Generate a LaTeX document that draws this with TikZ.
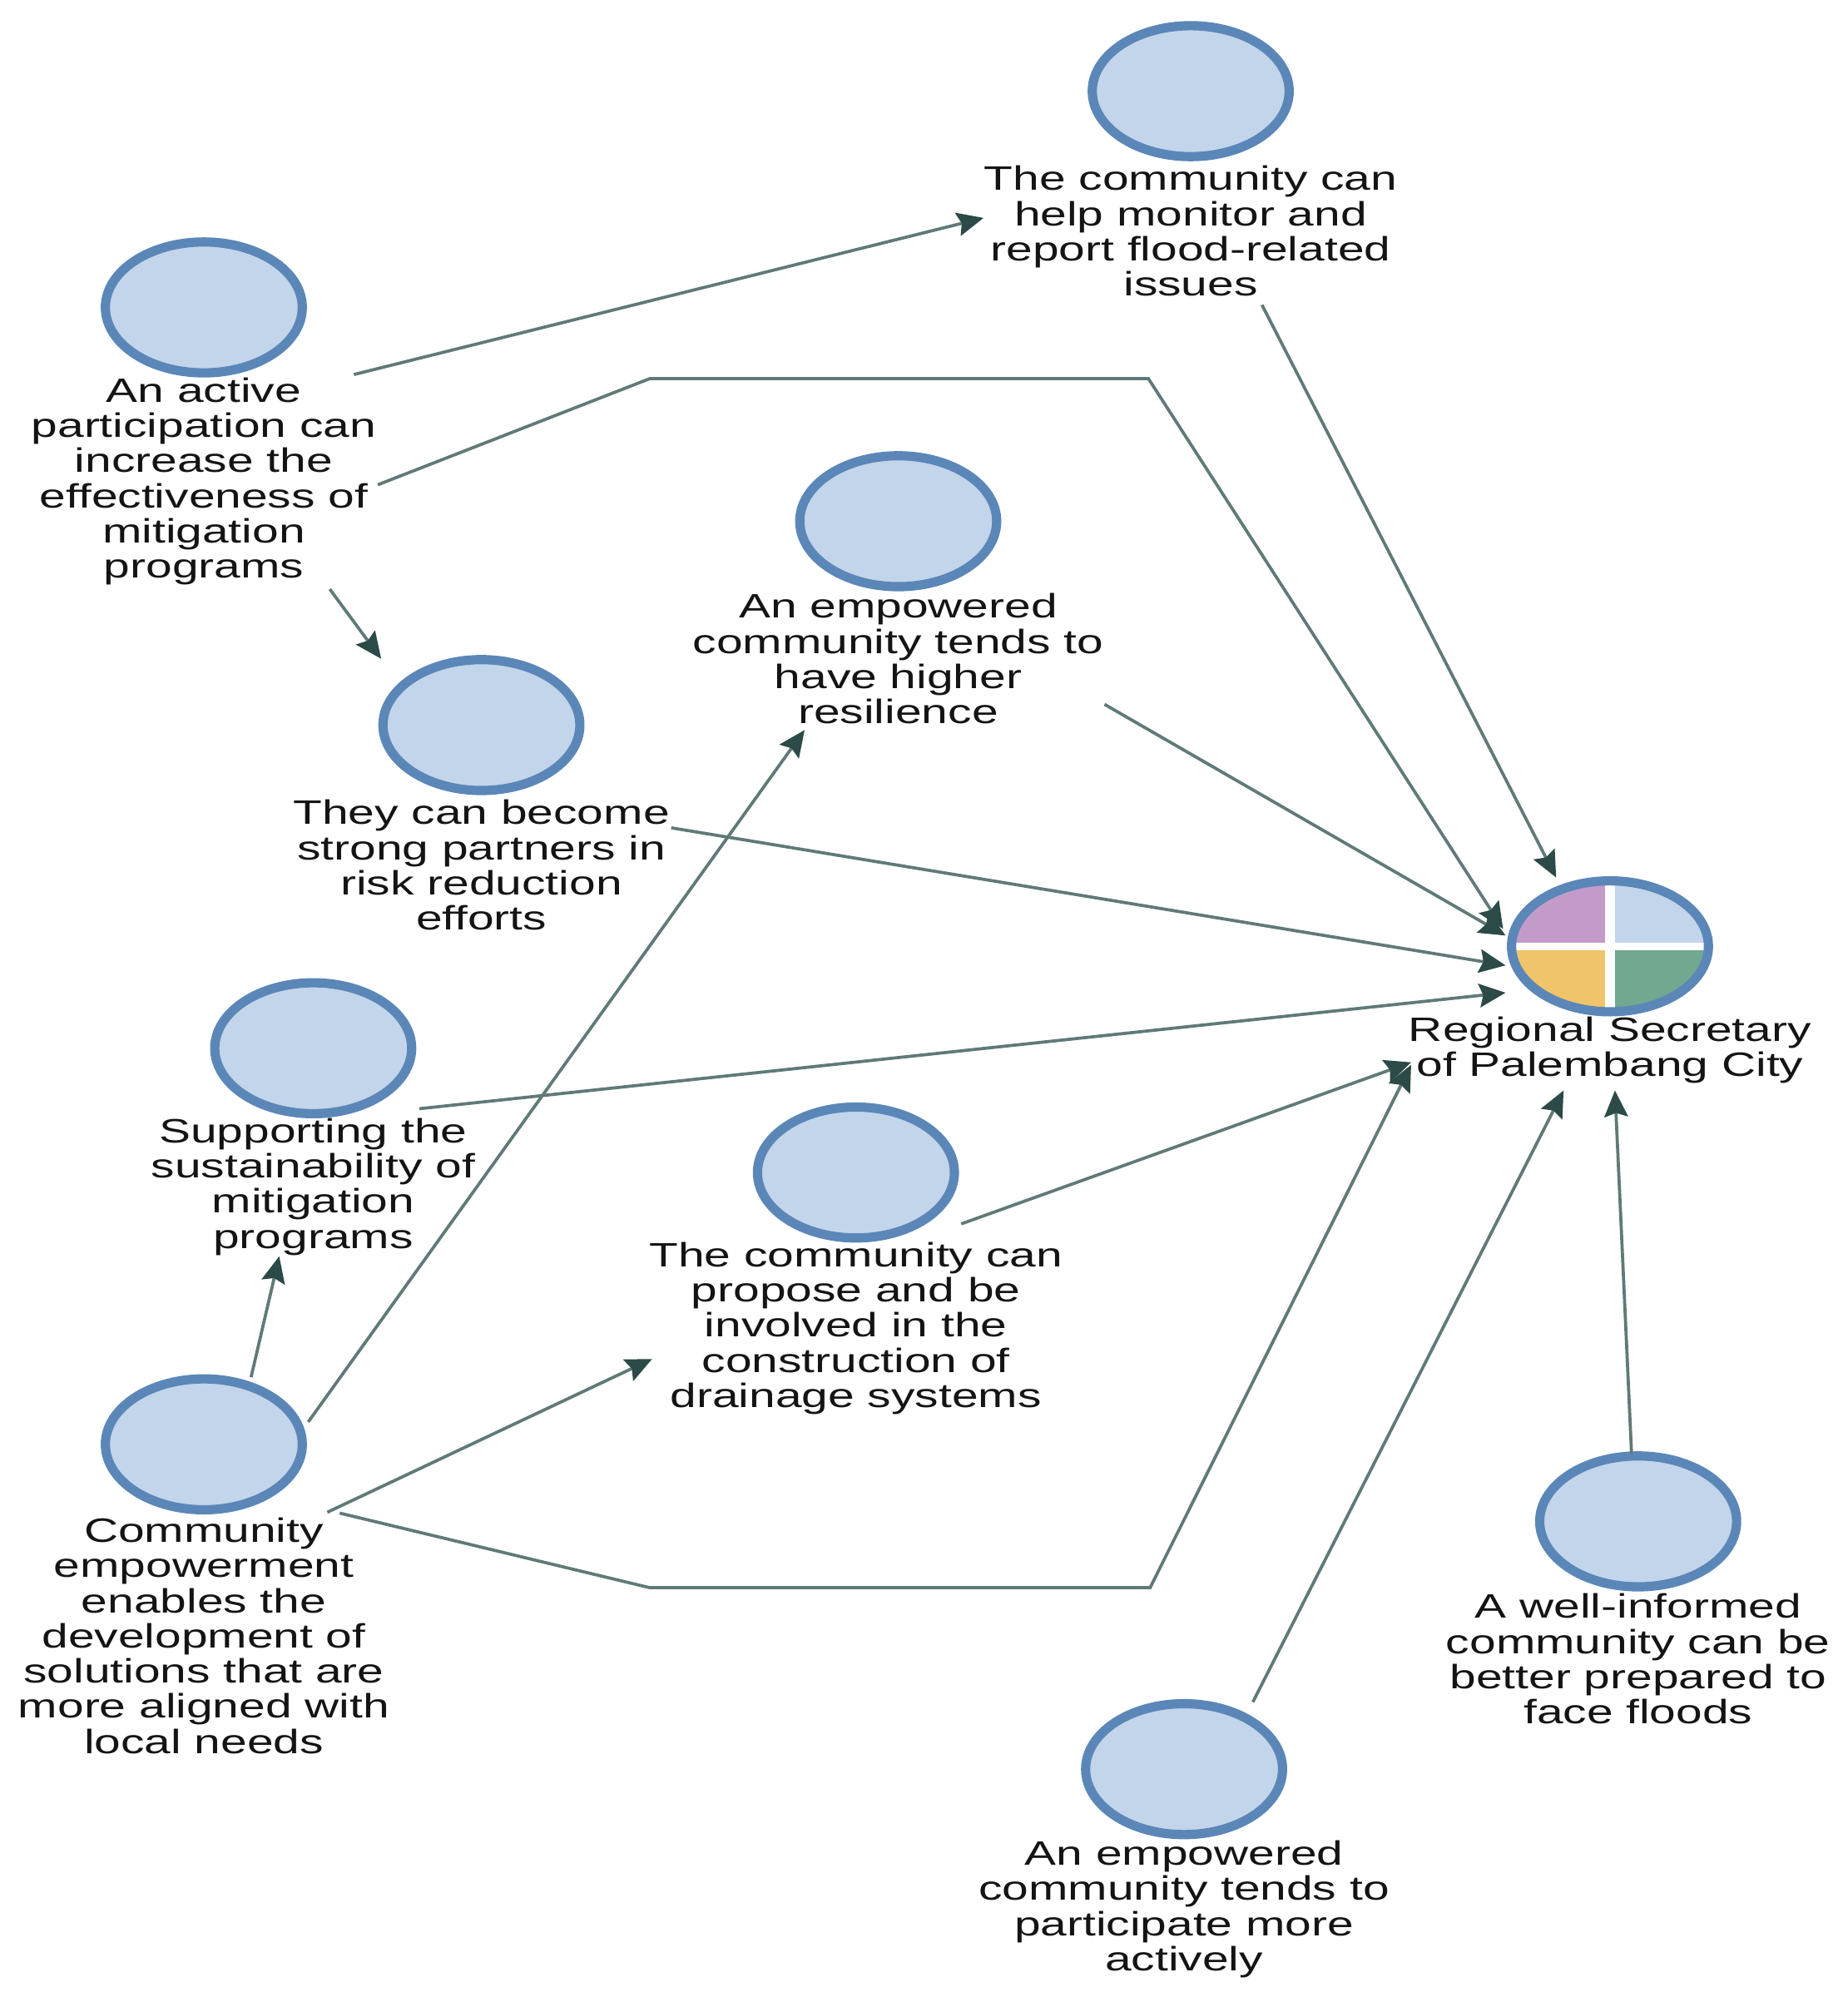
\documentclass[tikz,border=0pt]{standalone}
\usepackage{fontspec}
\setmainfont[FakeStretch=1.4]{Liberation Sans}
\usetikzlibrary{shapes.geometric,arrows.meta}
\definecolor{rimblue}{HTML}{5B87B8}
\definecolor{fillblue}{HTML}{C3D5EA}
\definecolor{linegrey}{HTML}{5F7A78}
\definecolor{tipdark}{HTML}{2B4A48}
\definecolor{quadpurple}{HTML}{C39BC9}
\definecolor{quadyellow}{HTML}{EFC46A}
\definecolor{quadgreen}{HTML}{72A88F}
\tikzset{
  concept/.style={ellipse,draw=rimblue,fill=fillblue,line width=9.5pt,
    minimum width=7.1cm,minimum height=4.72cm,inner sep=0pt},
  lab/.style={align=center,inner sep=0pt,text=black!92,
    font=\fontsize{34.7}{36.1}\selectfont},
  flow/.style={draw=linegrey,line width=3.2pt,
    -{Stealth[length=.95cm,width=.85cm,inset=.14cm,color=tipdark]}}
}
\begin{document}
\begin{tikzpicture}[x=.02988cm,y=-.02988cm]
  \useasboundingbox (0,-2) rectangle (2230,2408);

  %% concepts
  \node (mon) at (1437,108) [concept] {};
  \node (act) at (246,369) [concept] {};
  \node (res) at (1084,627) [concept] {};
  \node (par) at (581,873) [concept] {};
  \node (sus) at (378,1263) [concept] {};
  \node (dra) at (1033,1413) [concept] {};
  \node (emp) at (246,1741) [concept] {};
  \node (inf) at (1977,1834) [concept] {};
  \node (mor) at (1429,2133) [concept] {};

  %% the one with four quarters
  \node (sec) at (1943,1140) [concept,path picture={
      \fill[quadpurple] (path picture bounding box.center) rectangle (path picture bounding box.north west);
      \fill[fillblue] (path picture bounding box.center) rectangle (path picture bounding box.north east);
      \fill[quadyellow] (path picture bounding box.center) rectangle (path picture bounding box.south west);
      \fill[quadgreen] (path picture bounding box.center) rectangle (path picture bounding box.south east);
      \draw[white,line width=11pt] (path picture bounding box.north) -- (path picture bounding box.south);
      \draw[white,line width=8pt] (path picture bounding box.west) -- (path picture bounding box.east);
    }] {};

  %% labels
  \node (monlab) at (1437,277) [lab] {The community can\\help monitor and\\report flood-related\\issues};
  \node (actlab) at (246,579) [lab] {An active\\participation can\\increase the\\effectiveness of\\mitigation\\programs};
  \node (reslab) at (1084,793) [lab] {An empowered\\community tends to\\have higher\\resilience};
  \node (parlab) at (581,1042) [lab] {They can become\\strong partners in\\risk reduction\\efforts};
  \node (suslab) at (378,1430) [lab] {Supporting the\\sustainability of\\mitigation\\programs};
  \node (dralab) at (1033,1601) [lab] {The community can\\propose and be\\involved in the\\construction of\\drainage systems};
  \node (emplab) at (246,1972) [lab] {Community\\empowerment\\enables the\\development of\\solutions that are\\more aligned with\\local needs};
  \node (seclab) at (1943,1265) [lab] {Regional Secretary\\of Palembang City};
  \node (inflab) at (1977,2000) [lab] {A well-informed\\community can be\\better prepared to\\face floods};
  \node (morlab) at (1429,2302) [lab] {An empowered\\community tends to\\participate more\\actively};

  %% bends
  \coordinate (topa) at (784,455);
  \coordinate (topb) at (1386,455);
  \coordinate (lowa) at (784,1914);
  \coordinate (lowb) at (1388,1914);

  %% connectors
  \draw[flow] ([shift={(181,81)}]act.center) -- ([shift={(-250,-16)}]monlab.center);
  \draw[flow] ([shift={(210,4)}]actlab.center) -- (topa) -- (topb) -- ([shift={(-129,-21)}]sec.center);
  \draw[flow] ([shift={(152,130)}]actlab.center) -- ([shift={(-121,-80)}]par.center);
  \draw[flow] ([shift={(86,89)}]monlab.center) -- ([shift={(-65,-83)}]sec.center);
  \draw[flow] ([shift={(249,55)}]reslab.center) -- ([shift={(-126,-13)}]sec.center);
  \draw[flow] ([shift={(229,-45)}]parlab.center) -- ([shift={(-126,23)}]sec.center);
  \draw[flow] ([shift={(128,73)}]sus.center) -- ([shift={(-126,56)}]sec.center);
  \draw[flow] ([shift={(127,62)}]dra.center) -- ([shift={(-240,15)}]seclab.center);
  \draw[flow] ([shift={(57,-81)}]emp.center) -- ([shift={(-41,84)}]suslab.center);
  \draw[flow] ([shift={(126,-27)}]emp.center) -- ([shift={(-113,86)}]reslab.center);
  \draw[flow] ([shift={(149,82)}]emp.center) -- ([shift={(-246,37)}]dralab.center);
  \draw[flow] ([shift={(164,83)}]emp.center) -- (lowa) -- (lowb) -- ([shift={(-240,18)}]seclab.center);
  \draw[flow] ([shift={(83,-81)}]mor.center) -- ([shift={(-56,49)}]seclab.center);
  \draw[flow] ([shift={(-8,-82)}]inf.center) -- ([shift={(6,49)}]seclab.center);
\end{tikzpicture}
\end{document}
